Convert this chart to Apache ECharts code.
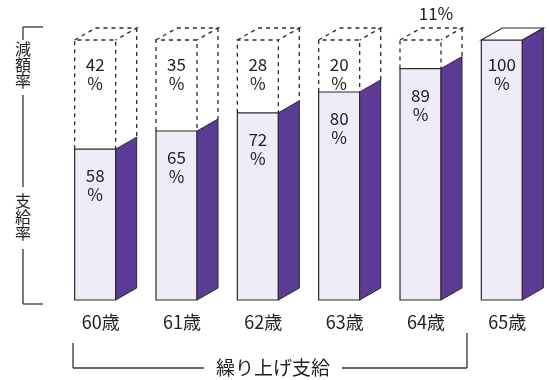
<!DOCTYPE html>
<html>
<head>
<meta charset="utf-8">
<script src="https://cdn.jsdelivr.net/npm/echarts@6/dist/echarts.min.js"></script>
<style>
html,body{margin:0;padding:0;background:#fff;}
#chart{width:549px;height:380px;}
</style>
</head>
<body>
<div id="chart"></div>
<script>
var categories = ['60歳', '61歳', '62歳', '63歳', '64歳', '65歳'];
var payRate = [58, 65, 72, 80, 89, 100];
var reduceRate = [42, 35, 28, 20, 11, 0];
var sideLabels = ['減額率', '支給率'];
var bracketLabel = '繰り上げ支給';

var FONT = '"Noto Sans CJK JP", "Noto Sans", sans-serif';
var FRONT = '#efecf7';
var SIDE = '#5b3b95';
var EDGE = '#2a2a2a';

var chart = echarts.init(document.getElementById('chart'));

function renderItem(params, api) {
  var i = params.dataIndex;
  var v = api.value(1);
  var r = reduceRate[i];
  var top = api.coord([api.value(0), v]);
  var base = api.coord([api.value(0), 0]);
  var full = api.coord([api.value(0), 100]);
  var cx = top[0];
  var W = 41, dx = 21, dy = 12;
  var L = cx - 26, R = L + W;
  var children = [];
  children.push({
    type: 'rect',
    shape: {x: L, y: top[1], width: W, height: base[1] - top[1]},
    style: {fill: FRONT, stroke: EDGE, lineWidth: 1.2}
  });
  children.push({
    type: 'polygon',
    shape: {points: [[R, top[1]], [R + dx, top[1] - dy], [R + dx, base[1] - dy], [R, base[1]]]},
    style: {fill: SIDE, stroke: EDGE, lineWidth: 1}
  });
  if (r > 0) {
    var dash = {fill: null, stroke: EDGE, lineWidth: 1.3, lineDash: [4, 4]};
    children.push({type: 'polyline', shape: {points: [[L, top[1]], [L, full[1]], [R, full[1]], [R, top[1]]]}, style: dash});
    children.push({type: 'polyline', shape: {points: [[L, full[1]], [L + dx, full[1] - dy], [R + dx, full[1] - dy], [R, full[1]]]}, style: dash});
    children.push({type: 'line', shape: {x1: R + dx, y1: full[1] - dy, x2: R + dx, y2: top[1] - dy}, style: dash});
    if (top[1] - full[1] > 40) {
      children.push({
        type: 'text',
        style: {text: r + '\n%', x: L + W / 2, y: full[1] + 15, align: 'center', verticalAlign: 'top',
          font: '17px ' + FONT, lineHeight: 19, fill: '#222'}
      });
    } else {
      children.push({
        type: 'text',
        style: {text: r + '%', x: cx + 10, y: full[1] - dy - 14, align: 'center', verticalAlign: 'middle',
          font: '17px ' + FONT, fill: '#222'}
      });
    }
  } else {
    children.push({
      type: 'polygon',
      shape: {points: [[L, top[1]], [L + dx, top[1] - dy], [R + dx, top[1] - dy], [R, top[1]]]},
      style: {fill: '#fff', stroke: EDGE, lineWidth: 1.2}
    });
  }
  children.push({
    type: 'text',
    style: {text: v + '\n%', x: L + W / 2, y: top[1] + (v === 100 ? 15 : 17), align: 'center', verticalAlign: 'top',
      font: '17px ' + FONT, lineHeight: 19, fill: '#222'}
  });
  return {type: 'group', children: children};
}

var lineStyle = {stroke: '#333', lineWidth: 1.3};
function seg(x1, y1, x2, y2) {
  return {type: 'line', shape: {x1: x1, y1: y1, x2: x2, y2: y2}, style: lineStyle, silent: true};
}
function vtext(t, x, y) {
  return {type: 'text', x: x, y: y, style: {text: t.split('').join('\n'), align: 'center', verticalAlign: 'top',
    font: '16px ' + FONT, lineHeight: 16, fill: '#222'}, silent: true};
}

chart.setOption({
  backgroundColor: '#fff',
  animation: false,
  grid: {left: 60, right: 1, top: 40, bottom: 80, containLabel: false},
  xAxis: {
    type: 'category',
    data: categories,
    axisLine: {show: false},
    axisTick: {show: false},
    axisLabel: {margin: 13, fontSize: 18, color: '#222', fontFamily: FONT}
  },
  yAxis: {type: 'value', min: 0, max: 100, show: false},
  series: [{
    type: 'custom',
    renderItem: renderItem,
    data: payRate.map(function (v, i) { return [i, v]; }),
    clip: false
  }],
  graphic: [
    seg(23, 27, 43, 27),
    seg(23, 27, 23, 40),
    vtext(sideLabels[0], 23, 41),
    seg(23, 95, 23, 187),
    vtext(sideLabels[1], 23, 193),
    seg(23, 249, 23, 304),
    seg(23, 304, 43, 304),
    seg(73, 343, 73, 368),
    seg(73, 368, 204, 368),
    {type: 'text', x: 273, y: 368, style: {text: bracketLabel, align: 'center', verticalAlign: 'middle',
      font: '19px ' + FONT, fill: '#222'}, silent: true},
    seg(342, 368, 467, 368),
    seg(467, 333, 467, 368)
  ]
});
</script>
</body>
</html>
